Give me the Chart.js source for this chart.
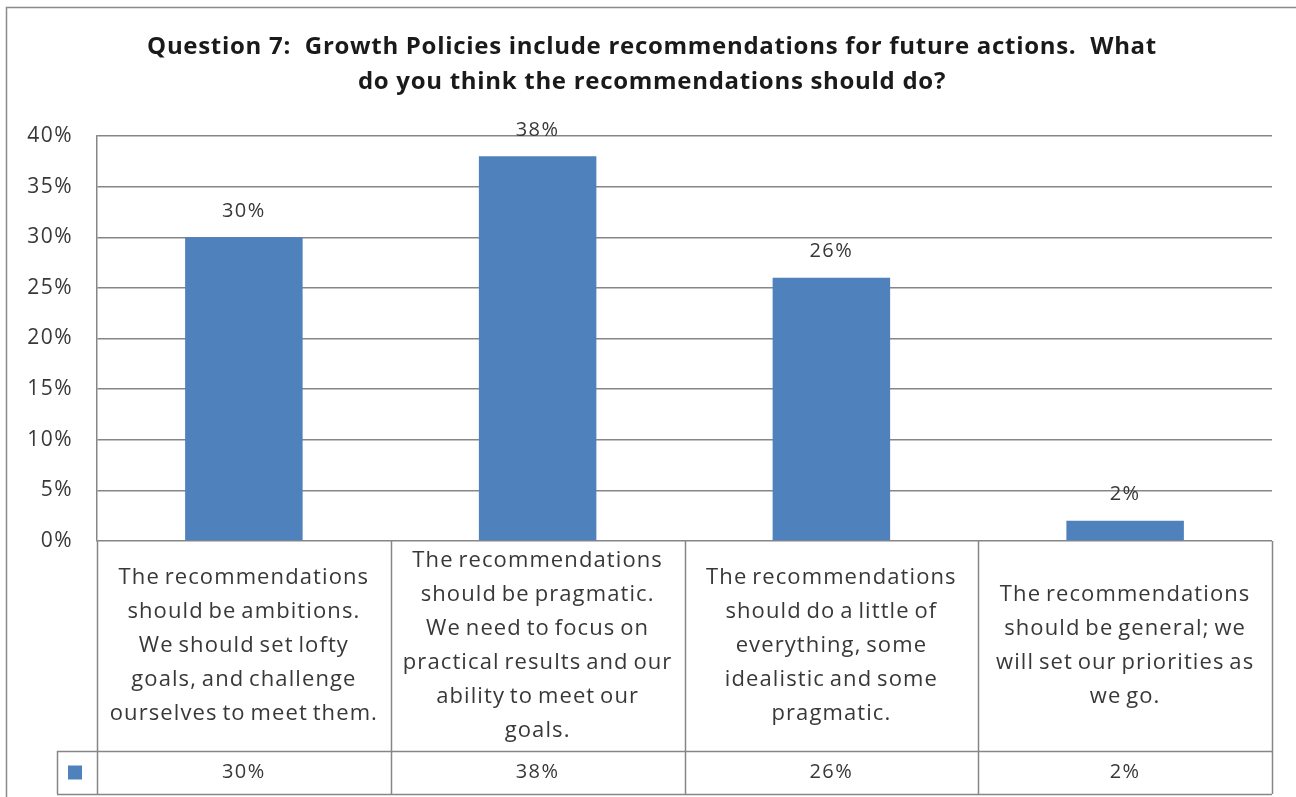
<!DOCTYPE html>
<html>
<head>
<meta charset="utf-8">
<title>Question 7</title>
<script src="https://cdn.jsdelivr.net/npm/chart.js@4.4.1/dist/chart.umd.min.js"></script>
<style>
    html, body { margin: 0; padding: 0; background: #ffffff; }
    #wrap { width: 1296px; height: 797px; position: relative; }
</style>
</head>
<body>
<div id="wrap"><canvas id="chart"></canvas></div>
<script>
// Question 7 survey results
const titleLines = [
    'Question 7:  Growth Policies include recommendations for future actions.  What',
    'do you think the recommendations should do?'
];

const categories = [
    ['The recommendations', 'should be ambitions.', 'We should set lofty', 'goals, and challenge', 'ourselves to meet them.'],
    ['The recommendations', 'should be pragmatic.', 'We need to focus on', 'practical results and our', 'ability to meet our', 'goals.'],
    ['The recommendations', 'should do a little of', 'everything, some', 'idealistic and some', 'pragmatic.'],
    ['The recommendations', 'should be general; we', 'will set our priorities as', 'we go.']
];

const percentages = [30, 38, 26, 2];

const yMax = 40;
const yStep = 5;

const BAR_BLUE = '#4f81bd';
const GRID_GREY = '#868686';
const TEXT_GREY = '#383838';
const FONT = '"Open Sans", sans-serif';

const TABLE_ROW_H = 210;   // category row of the data table
const TABLE_VAL_H = 43;    // value row of the data table
const LEGEND_CELL_W = 40;

// Outer frame + default letter spacing for axis text
const framePlugin = {
    id: 'frame',
    beforeDraw(chart) {
        const ctx = chart.ctx;
        ctx.letterSpacing = '1.5px';
        ctx.save();
        ctx.strokeStyle = '#8a8a8a';
        ctx.lineWidth = 1.5;
        ctx.beginPath();
        ctx.moveTo(6.5, chart.height);
        ctx.lineTo(6.5, 7.5);
        ctx.lineTo(chart.width, 7.5);
        ctx.stroke();
        ctx.restore();
    }
};

// Two-line bold heading
const headingPlugin = {
    id: 'heading',
    afterDraw(chart) {
        const ctx = chart.ctx;
        ctx.save();
        ctx.letterSpacing = '0.7px';
        ctx.font = 'bold 24px ' + FONT;
        ctx.fillStyle = '#1a1a1a';
        ctx.textAlign = 'center';
        ctx.textBaseline = 'middle';
        const cx = 652;
        ctx.fillText(titleLines[0], cx, 47);
        ctx.fillText(titleLines[1], cx, 82);
        ctx.restore();
    }
};

// Value labels above each bar
const barLabelPlugin = {
    id: 'barLabels',
    afterDatasetsDraw(chart) {
        const ctx = chart.ctx;
        const meta = chart.getDatasetMeta(0);
        ctx.save();
        ctx.font = '20px ' + FONT;
        ctx.fillStyle = TEXT_GREY;
        ctx.textAlign = 'center';
        ctx.textBaseline = 'middle';
        meta.data.forEach((bar, i) => {
            ctx.fillText(percentages[i] + '%', bar.x, bar.y - 26);
        });
        ctx.restore();
    }
};

// Data table under the plot: category text row + value row with legend key
const dataTablePlugin = {
    id: 'dataTable',
    afterDraw(chart) {
        const ctx = chart.ctx;
        const area = chart.chartArea;
        const xScale = chart.scales.x;
        const colW = (area.right - area.left) / categories.length;
        const top = area.bottom;
        const mid = top + TABLE_ROW_H;
        const bottom = mid + TABLE_VAL_H;
        const legendLeft = area.left - LEGEND_CELL_W;

        ctx.save();
        ctx.strokeStyle = GRID_GREY;
        ctx.lineWidth = 1.5;
        ctx.beginPath();
        for (let i = 0; i <= categories.length; i++) {
            const x = Math.round(area.left + i * colW) + 0.5;
            ctx.moveTo(x, top);
            ctx.lineTo(x, bottom);
        }
        ctx.moveTo(legendLeft, Math.round(mid) + 0.5);
        ctx.lineTo(area.right, Math.round(mid) + 0.5);
        ctx.moveTo(legendLeft, Math.round(bottom) + 0.5);
        ctx.lineTo(area.right, Math.round(bottom) + 0.5);
        ctx.moveTo(legendLeft + 0.5, mid);
        ctx.lineTo(legendLeft + 0.5, bottom);
        ctx.stroke();

        // legend key
        ctx.fillStyle = BAR_BLUE;
        ctx.fillRect(legendLeft + 11, mid + (TABLE_VAL_H - 14) / 2, 14, 14);

        ctx.font = '22px ' + FONT;
        ctx.letterSpacing = '1.1px';
        ctx.wordSpacing = '-2px';
        ctx.fillStyle = TEXT_GREY;
        ctx.textAlign = 'center';
        ctx.textBaseline = 'middle';
        const lineH = 34;
        categories.forEach((lines, i) => {
            const cx = xScale.getPixelForValue(i);
            const cy = top + TABLE_ROW_H / 2;
            const y0 = cy - (lines.length - 1) * lineH / 2;
            lines.forEach((line, j) => ctx.fillText(line, cx, y0 + j * lineH));
        });

        ctx.font = '20px ' + FONT;
        ctx.letterSpacing = '1.5px';
        ctx.wordSpacing = '0px';
        percentages.forEach((v, i) => {
            ctx.fillText(v + '%', xScale.getPixelForValue(i), mid + TABLE_VAL_H / 2);
        });
        ctx.restore();
    }
};

new Chart(document.getElementById('chart'), {
    type: 'bar',
    data: {
        labels: categories,
        datasets: [{
            data: percentages,
            backgroundColor: BAR_BLUE,
            borderWidth: 0,
            barPercentage: 0.4,
            categoryPercentage: 1
        }]
    },
    options: {
        responsive: true,
        maintainAspectRatio: false,
        animation: false,
        devicePixelRatio: 1,
        layout: {
            padding: { top: 136, right: 24, bottom: 0, left: 0 }
        },
        plugins: {
            legend: { display: false },
            title: { display: false },
            tooltip: { enabled: false }
        },
        scales: {
            x: {
                ticks: { display: false },
                grid: { display: false },
                border: { display: false },
                afterFit: function (scale) {
                    scale.height = 256;
                }
            },
            y: {
                min: 0,
                max: yMax,
                ticks: {
                    stepSize: yStep,
                    padding: 24,
                    color: TEXT_GREY,
                    font: { family: FONT, size: 21 },
                    callback: function (value) {
                        return value + '%';
                    }
                },
                grid: {
                    color: GRID_GREY,
                    lineWidth: 1.5,
                    drawTicks: false
                },
                border: { color: GRID_GREY, width: 1.5 },
                afterFit: function (scale) {
                    scale.width = 97;
                }
            }
        }
    },
    plugins: [framePlugin, headingPlugin, barLabelPlugin, dataTablePlugin]
});
</script>
</body>
</html>
